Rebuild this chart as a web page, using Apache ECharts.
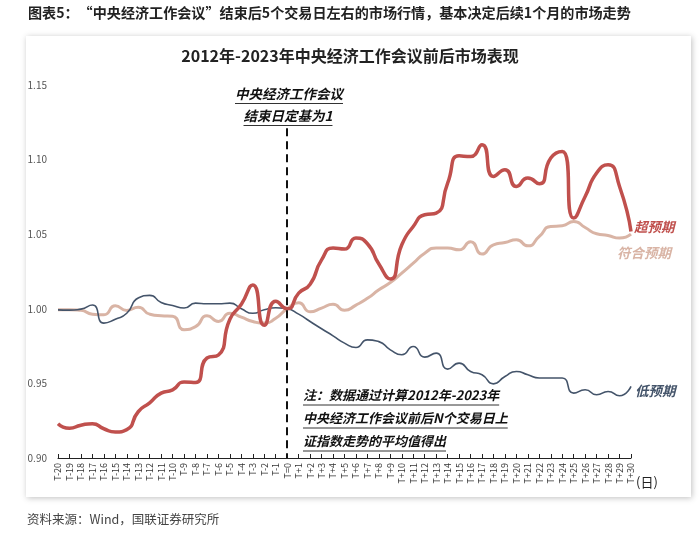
<!DOCTYPE html>
<html>
<head>
<meta charset="utf-8">
<script src="https://cdn.jsdelivr.net/npm/echarts@6/dist/echarts.min.js"></script>
<style>
html,body{margin:0;padding:0;background:#fff;}
#c{width:700px;height:534px;}
</style>
</head>
<body>
<div id="c"></div>
<script>
const categories = ['T-20','T-19','T-18','T-17','T-16','T-15','T-14','T-13','T-12','T-11','T-10','T-9','T-8','T-7','T-6','T-5','T-4','T-3','T-2','T-1','T=0','T+1','T+2','T+3','T+4','T+5','T+6','T+7','T+8','T+9','T+10','T+11','T+12','T+13','T+14','T+15','T+16','T+17','T+18','T+19','T+20','T+21','T+22','T+23','T+24','T+25','T+26','T+27','T+28','T+29','T+30'];

const aboveExpected = [0.923,0.920,0.922,0.923,0.9196,0.9174,0.919,0.931,0.937,0.9435,0.9457,0.951,0.9506,0.967,0.969,0.993,1.003,1.016,0.989,1.005,1.000,1.0105,1.0165,1.0328,1.0407,1.0400,1.0474,1.0436,1.030,1.020,1.0429,1.0552,1.063,1.0641,1.0842,1.1025,1.102,1.110,1.0887,1.0932,1.082,1.0876,1.0838,1.101,1.1054,1.0608,1.0753,1.091,1.0965,1.082,1.0518];

const meetExpected = [0.9993,0.9993,0.999,0.9964,0.996,1.002,0.9989,1.001,0.9964,0.9953,0.995,0.986,0.988,0.9953,0.9915,0.997,0.9944,0.9915,0.9904,0.9937,1.000,1.004,0.998,1.0005,1.003,0.999,1.0025,1.007,1.0127,1.0176,1.0239,1.0306,1.0373,1.0407,1.0407,1.0395,1.045,1.0367,1.0429,1.0444,1.0462,1.0422,1.0485,1.0552,1.0556,1.0585,1.0545,1.0503,1.0491,1.0474,1.050];

const belowExpected = [0.9993,0.9991,0.9998,1.0025,0.9904,0.993,0.997,1.0072,1.009,1.0042,1.0022,1.0005,1.0038,1.0034,1.0034,1.0038,1.000,0.997,0.9993,1.0007,1.000,0.9964,0.9915,0.9866,0.9819,0.977,0.9741,0.9792,0.978,0.9725,0.9692,0.9747,0.9676,0.9703,0.9596,0.9636,0.958,0.9558,0.9497,0.9546,0.958,0.9558,0.9536,0.9536,0.9536,0.9435,0.9457,0.9424,0.9446,0.9417,0.948];

const seriesNames = ['超预期','符合预期','低预期'];
const yTicks = {min:0.90, max:1.15, interval:0.05};
const dashTop = 1.121;

const FF = "'Noto Sans CJK SC', 'Noto Sans', sans-serif";
const mctx = document.createElement('canvas').getContext('2d');
function tw(text, size, weight, style){
  mctx.font = (style||'normal') + ' ' + (weight||'normal') + ' ' + size + 'px ' + FF;
  return mctx.measureText(text).width;
}
function uText(text, x, y, size){
  const w = tw(text, size, 'bold', 'italic');
  return [
    {type:'text', left:x, top:y, style:{text:text, font:'italic bold '+size+'px '+FF, fill:'#111'}},
    {type:'line', shape:{x1:x, y1:y+size+3, x2:x+w, y2:y+size+3}, style:{stroke:'#333', lineWidth:1}}
  ];
}
function uTextC(text, cx, y, size){
  const w = tw(text, size, 'bold', 'italic');
  return uText(text, cx - w/2, y, size);
}

const chart = echarts.init(document.getElementById('c'), null, {renderer:'canvas'});
const graphics = [
  {type:'rect', z:-10, shape:{x:26, y:36, width:665, height:461}, style:{fill:'#fff', shadowBlur:6, shadowColor:'rgba(0,0,0,0.25)', shadowOffsetX:1, shadowOffsetY:1}},
  {type:'text', left:28, top:6, style:{text:'图表5：“中央经济工作会议”结束后5个交易日左右的市场行情，基本决定后续1个月的市场走势', font:'bold 14.1px '+FF, fill:'#222'}},
  {type:'text', left:'center', top:48, style:{text:'2012年-2023年中央经济工作会议前后市场表现', font:'bold 16px '+FF, fill:'#222'}},
  {type:'text', left:27, top:513, style:{text:'资料来源：Wind，国联证券研究所', font:'12.5px '+FF, fill:'#444'}},
  {type:'text', left:636, top:476, style:{text:'(日)', font:'13px '+FF, fill:'#222'}}
].concat(
  uTextC('中央经济工作会议', 289, 87, 13.5),
  uTextC('结束日定基为1', 288, 109, 13.5),
  uText('注：数据通过计算2012年-2023年', 303, 389, 13),
  uText('中央经济工作会议前后N个交易日上', 303, 412, 13),
  uText('证指数走势的平均值得出', 303, 435, 13)
);

const option = {
  animation:false,
  backgroundColor:'#fff',
  grid:{left:58, right:69, top:85, bottom:76, containLabel:false},
  xAxis:{
    type:'category', data:categories, boundaryGap:false,
    axisLine:{lineStyle:{color:'#222', width:1}},
    axisTick:{inside:true, length:4, lineStyle:{color:'#222'}, interval:0},
    axisLabel:{rotate:90, interval:0, fontSize:9, color:'#333', margin:5, fontFamily:FF}
  },
  yAxis:{
    type:'value', min:yTicks.min, max:yTicks.max, interval:yTicks.interval,
    axisLine:{show:false}, axisTick:{show:false}, splitLine:{show:false},
    axisLabel:{formatter:v=>v.toFixed(2), fontSize:10, color:'#555', margin:11, fontFamily:FF}
  },
  series:[
    {name:seriesNames[1], type:'line', data:meetExpected, smooth:0.6, symbol:'none',
     lineStyle:{color:'#d9b4a5', width:3},
     endLabel:{show:true, formatter:seriesNames[1], offset:[-22,19], fontSize:13.5, fontWeight:'bold', fontStyle:'italic', color:'#d9b4a5', fontFamily:FF}},
    {name:seriesNames[2], type:'line', data:belowExpected, smooth:0.6, symbol:'none',
     lineStyle:{color:'#44546a', width:1.6},
     endLabel:{show:true, formatter:seriesNames[2], offset:[-4,4], fontSize:13.5, fontWeight:'bold', fontStyle:'italic', color:'#44546a', fontFamily:FF}},
    {name:seriesNames[0], type:'line', data:aboveExpected, smooth:0.6, symbol:'none',
     lineStyle:{color:'#c0504d', width:3.5},
     endLabel:{show:true, formatter:seriesNames[0], offset:[-5,-5], fontSize:13.5, fontWeight:'bold', fontStyle:'italic', color:'#c0504d', fontFamily:FF},
     markLine:{symbol:'none', silent:true, label:{show:false},
       lineStyle:{color:'#111', width:2, type:[8,5]},
       data:[[{coord:['T=0', dashTop]},{coord:['T=0', yTicks.min]}]]}}
  ],
  graphic:graphics
};
chart.setOption(option);
</script>
</body>
</html>
